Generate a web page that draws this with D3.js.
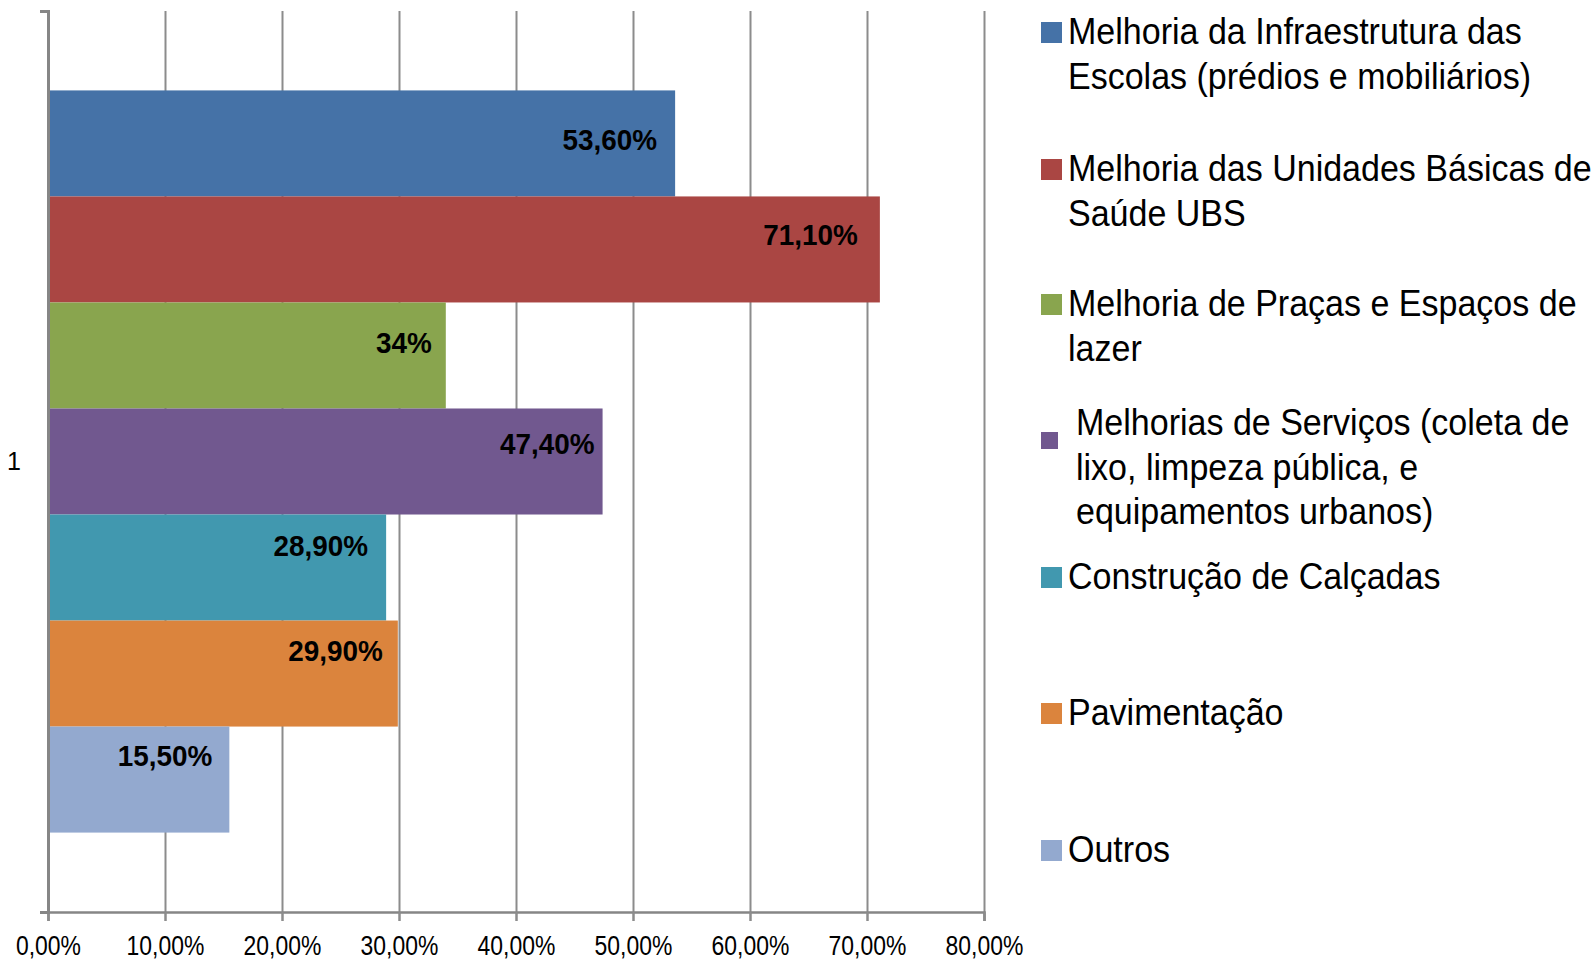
<!DOCTYPE html>
<html>
<head>
<meta charset="utf-8">
<script src="https://cdn.jsdelivr.net/npm/d3@7"></script>
<style>
  body { margin: 0; background: #fff; }
  svg { display: block; }
  text { font-family: "Liberation Sans", Arial, sans-serif; }
</style>
</head>
<body>
<div id="chart"></div>
<script>
// categories and values
var categories = ['1'];
var series = [
  'Melhoria da Infraestrutura das Escolas (prédios e mobiliários)',
  'Melhoria das Unidades Básicas de Saúde UBS',
  'Melhoria de Praças e Espaços de lazer',
  'Melhorias de Serviços (coleta de lixo, limpeza pública, e equipamentos urbanos)',
  'Construção de Calçadas',
  'Pavimentação',
  'Outros'
];
var values = [53.6, 71.1, 34, 47.4, 28.9, 29.9, 15.5];
var valueLabels = ['53,60%', '71,10%', '34%', '47,40%', '28,90%', '29,90%', '15,50%'];
var xTicks = [0, 10, 20, 30, 40, 50, 60, 70, 80];
// legend text as it wraps in the picture
var legendLines = [
  ['Melhoria da Infraestrutura das', 'Escolas (prédios e mobiliários)'],
  ['Melhoria das Unidades Básicas de', 'Saúde UBS'],
  ['Melhoria de Praças e Espaços de', 'lazer'],
  ['Melhorias de Serviços (coleta de', 'lixo, limpeza pública, e', 'equipamentos urbanos)'],
  ['Construção de Calçadas'],
  ['Pavimentação'],
  ['Outros']
];

var colors = ['#4572A7', '#AA4643', '#89A54E', '#71588F', '#4198AF', '#DB843D', '#93A9CF'];

// where excel put each data label, relative to the bar end / bar middle
var labelDx = [-18, -22, -14, -8, -18, -15, -17];
var labelDy = [-4, -15, -13, -18, -22, -23, -24];

var width = 1593, height = 960;
var margin = { top: 11, left: 48, bottom: 48 };
var plotBottom = height - margin.bottom; // 912

var svg = d3.select('#chart').append('svg')
  .attr('width', width)
  .attr('height', height);

var x = d3.scaleLinear()
  .domain([0, 80])
  .range([margin.left, 984]);

// one category, bars of each series inside it
var y0 = d3.scaleBand()
  .domain(categories)
  .range([margin.top, plotBottom])
  .paddingOuter(0.107);

var y1 = d3.scaleBand()
  .domain(d3.range(series.length))
  .range([0, y0.bandwidth()]);

// gridlines (run through the tick marks below the axis)
svg.append('g')
  .selectAll('line')
  .data(xTicks)
  .join('line')
  .attr('x1', d => Math.round(x(d)) + 0.5)
  .attr('x2', d => Math.round(x(d)) + 0.5)
  .attr('y1', margin.top)
  .attr('y2', plotBottom + 9)
  .attr('stroke', '#8c8c8c')
  .attr('stroke-width', 2);

// bars
var g = svg.append('g')
  .attr('transform', `translate(0,${y0('1')})`);

g.selectAll('rect')
  .data(values)
  .join('rect')
  .attr('x', x(0))
  .attr('y', (d, i) => y1(i))
  .attr('width', d => x(d) - x(0))
  .attr('height', y1.bandwidth())
  .attr('fill', (d, i) => colors[i]);

g.selectAll('text')
  .data(values)
  .join('text')
  .attr('transform', (d, i) =>
    `translate(${x(d) + labelDx[i]},${y1(i) + y1.bandwidth() / 2 + labelDy[i]}) scale(0.93,1)`)
  .attr('dy', '0.35em')
  .attr('text-anchor', 'end')
  .attr('font-size', '30px')
  .attr('font-weight', 'bold')
  .attr('fill', '#000')
  .text((d, i) => valueLabels[i]);

// x axis
var xAxis = svg.append('g')
  .attr('transform', `translate(0,${plotBottom})`)
  .call(d3.axisBottom(x)
    .tickValues(xTicks)
    .tickSize(9)
    .tickPadding(15)
    .tickFormat(d => d3.format('.2f')(d).replace('.', ',') + '%'));
xAxis.select('.domain').attr('stroke', '#868686').attr('stroke-width', 2.5);
xAxis.selectAll('.tick line').attr('stroke', '#8c8c8c').attr('stroke-width', 2);
xAxis.selectAll('text')
  .attr('font-size', '27px')
  .attr('fill', '#000')
  .attr('transform', 'scale(0.85,1)')
  .style('font-family', '"Liberation Sans", Arial, sans-serif');

// y axis
var yAxis = svg.append('g')
  .attr('transform', `translate(${margin.left},0)`)
  .call(d3.axisLeft(y0)
    .tickSizeInner(0)
    .tickSizeOuter(8)
    .tickPadding(27));
yAxis.select('.domain').attr('stroke', '#868686').attr('stroke-width', 3);
yAxis.selectAll('text')
  .attr('font-size', '25px')
  .attr('fill', '#000')
  .style('font-family', '"Liberation Sans", Arial, sans-serif');

// legend
var legendBase = [44, 181, 316, 435, 589, 725, 862];
var lineGap = 44.7;
var legend = svg.append('g');
legendLines.forEach(function (lines, i) {
  var narrow = i === 3;
  var sq = narrow ? 17 : 21;
  legend.append('rect')
    .attr('x', 1041)
    .attr('y', narrow ? legendBase[i] - 3 : legendBase[i] - 22)
    .attr('width', sq)
    .attr('height', sq)
    .attr('fill', colors[i]);
  legend.append('text')
    .attr('transform', `translate(${narrow ? 1076 : 1068},0) scale(0.945,1)`)
    .attr('font-size', '36px')
    .attr('fill', '#000')
    .selectAll('tspan')
    .data(lines)
    .join('tspan')
    .attr('x', 0)
    .attr('y', (d, j) => legendBase[i] + j * lineGap)
    .text(d => d);
});

// the clipped last line of the fourth entry
svg.append('clipPath').attr('id', 'cut')
  .append('rect').attr('x', 1040).attr('y', 544).attr('width', 540).attr('height', 9);
svg.append('text')
  .attr('clip-path', 'url(#cut)')
  .attr('transform', 'translate(1076,0) scale(0.945,1)')
  .attr('y', 572)
  .attr('font-size', '36px')
  .text('Investimentos em rede de água e esgoto');
</script>
</body>
</html>
